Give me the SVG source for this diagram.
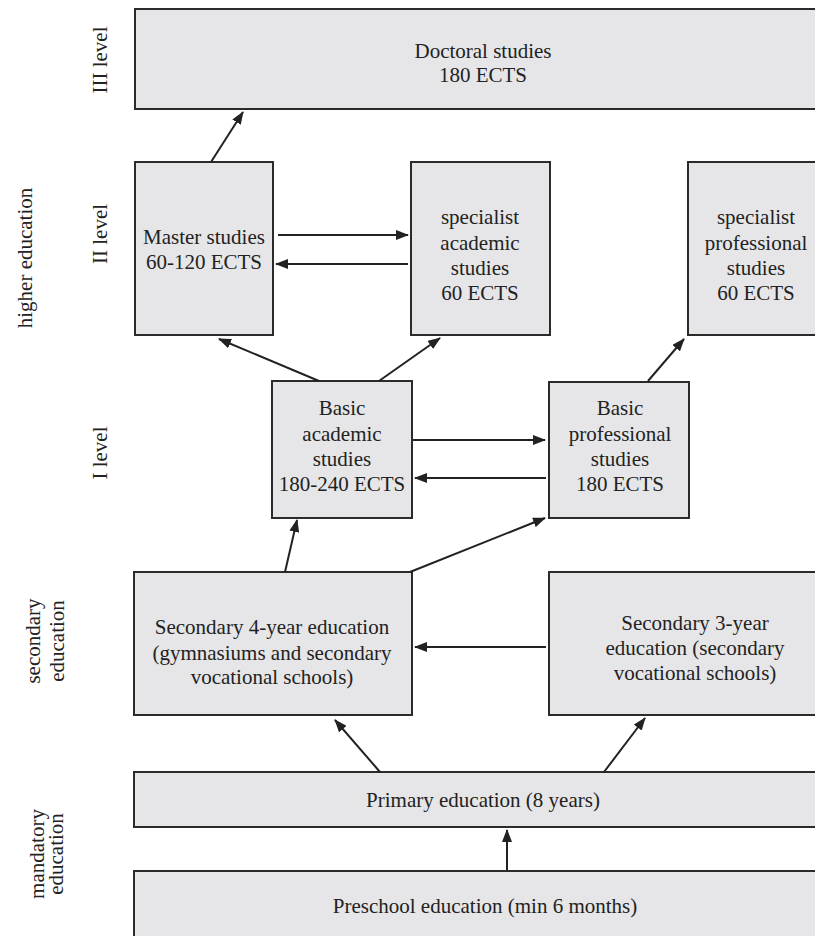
<svg xmlns="http://www.w3.org/2000/svg" width="815" height="936" viewBox="0 0 815 936">
<defs>
<marker id="ah" markerUnits="userSpaceOnUse" markerWidth="13" markerHeight="10" refX="12" refY="5" orient="auto">
<path d="M0,0 L13,5 L0,10 z" fill="#222"/>
</marker>
<style>
.box{fill:#e6e6e8;stroke:#2b2b2b;stroke-width:2}
.t{font-family:"Liberation Serif","Times New Roman",serif;font-size:21px;fill:#222;text-anchor:middle}
.c line{stroke:#222;stroke-width:2;marker-end:url(#ah)}
</style>
</defs>
<rect width="815" height="936" fill="#fff"/>
<g id="side-labels">
<text class="t" transform="translate(100,60) rotate(-90)" dy="7">III level</text>
<text class="t" transform="translate(100,234) rotate(-90)" dy="7">II level</text>
<text class="t" transform="translate(100,453) rotate(-90)" dy="7">I level</text>
<text class="t" transform="translate(25,258) rotate(-90)" dy="7">higher education</text>
<text class="t" transform="translate(33,641) rotate(-90)" dy="7">secondary</text>
<text class="t" transform="translate(57,641) rotate(-90)" dy="7">education</text>
<text class="t" transform="translate(37,854) rotate(-90)" dy="7">mandatory</text>
<text class="t" transform="translate(56,854) rotate(-90)" dy="7">education</text>
</g>
<g id="doctoral">
<rect class="box" x="135" y="9" width="695" height="100"/>
<text class="t" x="483" y="58">Doctoral studies</text>
<text class="t" x="483" y="82">180 ECTS</text>
</g>
<g id="master">
<rect class="box" x="135" y="162" width="138" height="173"/>
<text class="t" x="204" y="244">Master studies</text>
<text class="t" x="204" y="269">60-120 ECTS</text>
</g>
<g id="specialist-academic">
<rect class="box" x="411" y="162" width="139" height="173"/>
<text class="t" x="480" y="224">specialist</text>
<text class="t" x="480" y="250">academic</text>
<text class="t" x="480" y="275">studies</text>
<text class="t" x="480" y="300">60 ECTS</text>
</g>
<g id="specialist-professional">
<rect class="box" x="688" y="162" width="142" height="173"/>
<text class="t" x="756" y="224">specialist</text>
<text class="t" x="756" y="250">professional</text>
<text class="t" x="756" y="275">studies</text>
<text class="t" x="756" y="300">60 ECTS</text>
</g>
<g id="basic-academic">
<rect class="box" x="272" y="381" width="140" height="137"/>
<text class="t" x="342" y="415">Basic</text>
<text class="t" x="342" y="441">academic</text>
<text class="t" x="342" y="466">studies</text>
<text class="t" x="342" y="491">180-240 ECTS</text>
</g>
<g id="basic-professional">
<rect class="box" x="549" y="382" width="140" height="136"/>
<text class="t" x="620" y="415">Basic</text>
<text class="t" x="620" y="441">professional</text>
<text class="t" x="620" y="466">studies</text>
<text class="t" x="620" y="491">180 ECTS</text>
</g>
<g id="secondary-4">
<rect class="box" x="134" y="572" width="278" height="143"/>
<text class="t" x="272" y="634">Secondary 4-year education</text>
<text class="t" x="272" y="660">(gymnasiums and secondary</text>
<text class="t" x="272" y="684">vocational schools)</text>
</g>
<g id="secondary-3">
<rect class="box" x="549" y="572" width="281" height="143"/>
<text class="t" x="695" y="630">Secondary 3-year</text>
<text class="t" x="695" y="655">education (secondary</text>
<text class="t" x="695" y="680">vocational schools)</text>
</g>
<g id="primary">
<rect class="box" x="134" y="772" width="696" height="55"/>
<text class="t" x="483" y="807">Primary education (8 years)</text>
</g>
<g id="preschool">
<rect class="box" x="134" y="871" width="696" height="80"/>
<text class="t" x="485" y="913">Preschool education (min 6 months)</text>
</g>
<g id="connectors" class="c">
<line x1="211" y1="162" x2="243" y2="112"/>
<line x1="278" y1="235" x2="408" y2="235"/>
<line x1="408" y1="264" x2="276" y2="264"/>
<line x1="319" y1="381" x2="219" y2="339"/>
<line x1="379" y1="381" x2="440" y2="338"/>
<line x1="413" y1="440" x2="545" y2="440"/>
<line x1="546" y1="478" x2="415" y2="478"/>
<line x1="648" y1="381" x2="684" y2="339"/>
<line x1="285" y1="572" x2="297" y2="520"/>
<line x1="410" y1="572" x2="545" y2="518"/>
<line x1="546" y1="647" x2="415" y2="647"/>
<line x1="380" y1="772" x2="335" y2="720"/>
<line x1="604" y1="772" x2="645" y2="718"/>
<line x1="507" y1="871" x2="507" y2="830"/>
</g>
</svg>
